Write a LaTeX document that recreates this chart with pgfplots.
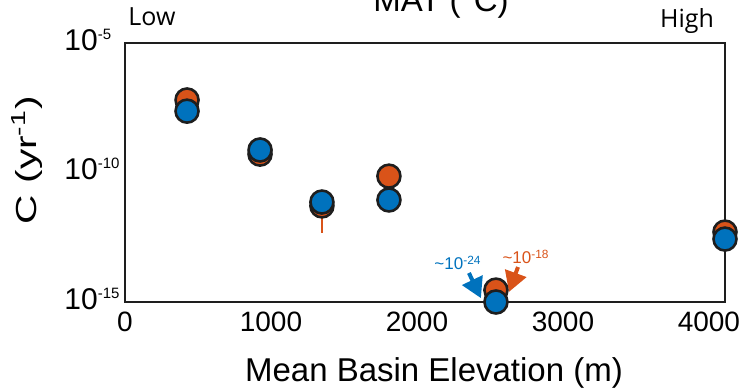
\documentclass[border=0pt]{standalone}
\usepackage{fontspec}
\setmainfont{Liberation Sans}
\newfontfamily\lowfont{Open Sans}
\usepackage{pgfplots}
\pgfplotsset{compat=1.18}
\usetikzlibrary{arrows.meta}
\definecolor{mOrange}{HTML}{D95319}
\definecolor{mBlue}{HTML}{0072BD}
\definecolor{edge}{HTML}{1E1E1E}
\newcommand{\yexp}[1]{10\raisebox{5.5pt}{\fontsize{7.5}{8}\selectfont #1}}
\begin{document}
\begin{tikzpicture}
\begin{axis}[
  scale only axis,
  width=300pt, height=129.5pt,
  xmin=0, xmax=4110,
  ymode=log, ymin=1e-15, ymax=1e-5,
  xtick={0,1000,2000,3000,4000},
  xticklabels={0,1000,2000,3000,4000},
  ytick={1e-15,1e-10,1e-5},
  yticklabels={\yexp{-15},\yexp{-10},\yexp{-5}},
  major tick length=0pt,
  minor tick num=0,
  axis line style={line width=1.1pt, draw=edge},
  xticklabel style={font=\fontsize{14}{16}\selectfont, inner sep=0pt, yshift=-5pt},
  yticklabel style={font=\fontsize{15}{16}\selectfont, inner sep=0pt, anchor=west, xshift=-30.5pt, yshift=1.75pt},
  /pgf/number format/assume math mode=true,
  clip=false,
]
% orange error bar (lower)
\addplot[mOrange, line width=1pt, forget plot] coordinates {(1349,5.13e-12) (1349,4.57e-13)};
% orange series
\addplot[only marks, mark=*, mark size=5.75pt, mark options={fill=mOrange, draw=edge, line width=1.3pt}]
coordinates {(425,6.31e-8) (925,5.13e-10) (1349,5.13e-12) (1808,7.24e-11) (2541,2.88e-15) (4110,5.01e-13)};
% blue series
\addplot[only marks, mark=*, mark size=5.75pt, mark options={fill=mBlue, draw=edge, line width=1.3pt}]
coordinates {(425,2.34e-8) (925,7.41e-10) (1349,7.24e-12) (1808,8.71e-12) (2541,1e-15) (4110,2.69e-13)};
% annotations
\draw[mBlue, line width=2pt, -{Triangle[width=11pt,length=10pt]}] (axis cs:2356,1.32e-14) -- (axis cs:2438,1.41e-15);
\draw[mOrange, line width=2pt, -{Triangle[width=11pt,length=10pt]}] (axis cs:2692,2.24e-14) -- (axis cs:2630,2.45e-15);
\node[mBlue, font=\fontsize{8.5}{10}\selectfont, inner sep=0pt] at (axis cs:2281,3.24e-14) {\textasciitilde10\textsuperscript{-24}};
\node[mOrange, font=\fontsize{8.5}{10}\selectfont, inner sep=0pt] at (axis cs:2747,5.5e-14) {\textasciitilde10\textsuperscript{-18}};
\end{axis}
% labels
\node[anchor=base, font=\fontsize{16.5}{18}\selectfont, inner sep=0pt] at (154.5pt,-40pt) {Mean Basin Elevation (m)};
\node[rotate=90, font=\fontsize{14.5}{16}\selectfont, inner sep=0pt] at (-49pt,71pt) {\scalebox{1.4}[1]{C (yr\textsuperscript{-1})}};
\node[anchor=base, font=\lowfont\fontsize{12.5}{14}\selectfont, inner sep=0pt] at (13.5pt,138pt) {Low};
\node[anchor=base, font=\lowfont\fontsize{12.5}{14}\selectfont, inner sep=0pt] at (281pt,137pt) {High};
\node[anchor=base, font=\fontsize{16.5}{18}\selectfont, inner sep=0pt] at (158pt,145pt) {MAT (°C)};
\pgfresetboundingbox
\useasboundingbox (-62.5pt,-44.5pt) rectangle (307.5pt,151pt);
\end{tikzpicture}
\end{document}
